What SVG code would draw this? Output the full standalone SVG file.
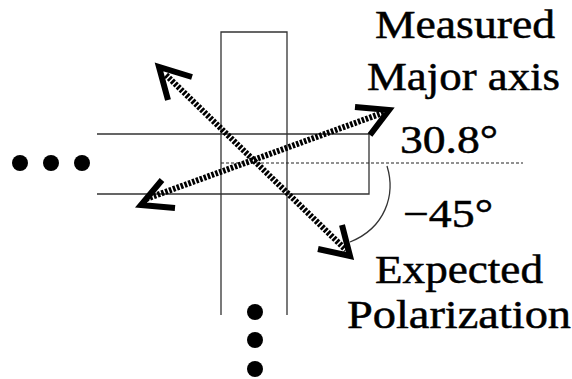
<svg xmlns="http://www.w3.org/2000/svg" width="572" height="379" viewBox="0 0 572 379">
<style>
.thin{fill:none;stroke:#333;stroke-width:1.3}
.dot{fill:none;stroke:#222;stroke-width:1.2;stroke-dasharray:3 2}
.pol{fill:none;stroke:#000;stroke-width:6;stroke-dasharray:2.6 1.5}
.head{fill:none;stroke:#000;stroke-width:6;stroke-linejoin:miter;stroke-linecap:butt}
.bullet{fill:#000}
</style>
<rect width="572" height="379" fill="#fff"/>
<g id="waveguide">
<path class="thin" d="M221,315 V32 H287 V315"/>
<path class="thin" d="M97,134 H369 V194 H97"/>
<path class="dot" d="M221,163 H523"/>
</g>
<g id="ellipsis-left">
<circle class="bullet" cx="20" cy="163" r="8"/>
<circle class="bullet" cx="51" cy="163" r="8"/>
<circle class="bullet" cx="82" cy="163" r="8"/>
</g>
<g id="ellipsis-bottom">
<circle class="bullet" cx="255" cy="312" r="8"/>
<circle class="bullet" cx="255" cy="340" r="8"/>
<circle class="bullet" cx="255" cy="369" r="8"/>
</g>
<g id="connectors">
<path class="pol" d="M166,75 L346,250"/>
<path class="head" d="M192,77 L159,67 L168,100"/>
<path class="head" d="M318,249 L350,256 L342,225"/>
<path class="pol" d="M146,199 L388,111"/>
<path class="head" d="M162,180 L141,205 L175,208"/>
<path class="head" d="M355,107 L389,110 L370,135"/>
<path class="thin" d="M387,166 C396,195 385,228 350,242"/>
</g>
<g id="labels" font-family="Liberation Serif, Times New Roman, serif" font-size="40" fill="#000" stroke="#000" stroke-width="0.5">
<text x="375" y="38" textLength="180" lengthAdjust="spacingAndGlyphs">Measured</text>
<text x="367" y="90" textLength="193" lengthAdjust="spacingAndGlyphs">Major axis</text>
<text x="400" y="153" textLength="98" lengthAdjust="spacingAndGlyphs">30.8°</text>
<text x="403" y="227" textLength="90" lengthAdjust="spacingAndGlyphs">−45°</text>
<text x="375" y="283" textLength="168" lengthAdjust="spacingAndGlyphs">Expected</text>
<text x="347" y="328" textLength="224" lengthAdjust="spacingAndGlyphs">Polarization</text>
</g>
</svg>
